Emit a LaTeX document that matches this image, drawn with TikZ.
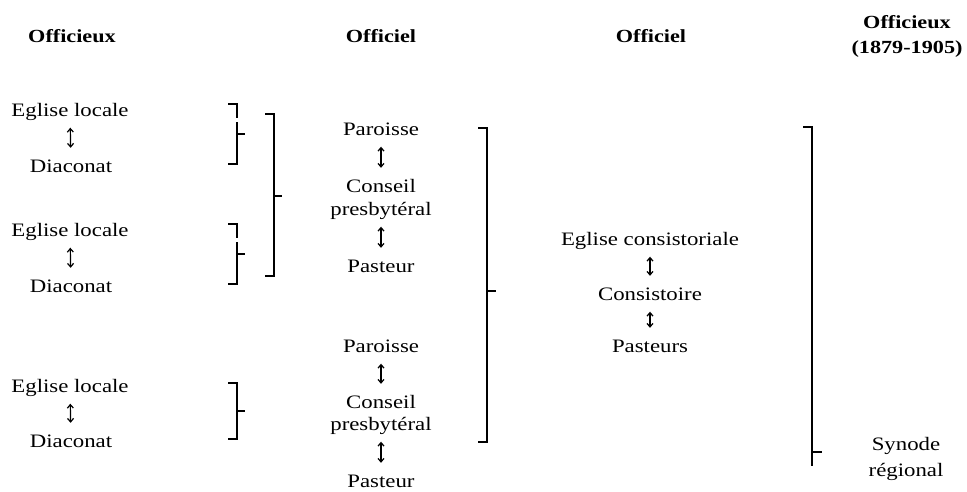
\documentclass[tikz,border=0pt]{standalone}
\usepackage{fontspec}
\setmainfont{Liberation Serif}[FakeStretch=1.2]
\usetikzlibrary{arrows.meta}
\begin{document}
\begin{tikzpicture}[x=1pt,y=-1pt,
  txt/.style={inner sep=0pt, anchor=base, font=\fontsize{19}{23}\selectfont, text height=12pt, text depth=4pt},
  hdr/.style={inner sep=0pt, anchor=base, font=\fontsize{18.5}{25}\selectfont\bfseries},
  blk/.style={inner sep=0pt, anchor=north, align=center, font=\fontsize{19}{26}\selectfont},
  rel/.style={{Straight Barb[length=3.5pt,width=6pt]}-{Straight Barb[length=3.5pt,width=6pt]}, line width=1.2pt, shorten <=7.5pt, shorten >=12pt},
  brk/.style={line width=2pt}]
\useasboundingbox (0,0) rectangle (967,491);

% headers
\node[hdr] (h1) at (72,42) {Officieux};
\node[hdr] (h2) at (381,42) {Officiel};
\node[hdr] (h3) at (651,42) {Officiel};
\node[hdr, anchor=north, align=center] (h4) at (907,15) {Officieux\\(1879-1905)};

% left column
\node[txt] (e1) at (70,116) {Eglise locale};
\node[txt] (d1) at (71,172) {Diaconat};
\node[txt] (e2) at (70,236) {Eglise locale};
\node[txt] (d2) at (71,292) {Diaconat};
\node[txt] (e3) at (70,392) {Eglise locale};
\node[txt] (d3) at (71,447) {Diaconat};
\draw[rel] (e1) -- (d1);
\draw[rel] (e2) -- (d2);
\draw[rel] (e3) -- (d3);

% middle column
\node[txt] (p1) at (381,135) {Paroisse};
\node[txt] (c1) at (381,192) {Conseil};
\node[txt] (b1) at (381,215) {presbytéral};
\node[txt] (s1) at (381,272) {Pasteur};
\node[txt] (p2) at (381,352) {Paroisse};
\node[txt] (c2) at (381,408) {Conseil};
\node[txt] (b2) at (381,430) {presbytéral};
\node[txt] (s2) at (381,487) {Pasteur};
\draw[rel] (p1) -- (c1);
\draw[rel] (b1) -- (s1);
\draw[rel] (p2) -- (c2);
\draw[rel] (b2) -- (s2);

% third column
\node[txt] (ec) at (650,245) {Eglise consistoriale};
\node[txt] (co) at (650,300) {Consistoire};
\node[txt] (ps) at (650,352) {Pasteurs};
\draw[rel] (ec) -- (co);
\draw[rel] (co) -- (ps);

% right column
\node[blk] (syn) at (906,437) {Synode\\régional};

% brackets
\draw[brk] (228,104) -- (237,104) -- (237,118) (237,122) -- (237,164) -- (228,164) (237,134) -- (245,134);
\draw[brk] (228,224) -- (237,224) -- (237,238) (237,242) -- (237,284) -- (228,284) (237,254) -- (245,254);
\draw[brk] (265,114) -- (274,114) -- (274,276) -- (265,276) (274,196) -- (282,196);
\draw[brk] (228,383) -- (237,383) -- (237,439) -- (228,439) (237,411) -- (245,411);
\draw[brk] (478,128) -- (487,128) -- (487,442) -- (478,442) (487,291) -- (496,291);
\draw[brk] (803,127) -- (812,127) -- (812,466) (812,452) -- (822,452);
\end{tikzpicture}
\end{document}
